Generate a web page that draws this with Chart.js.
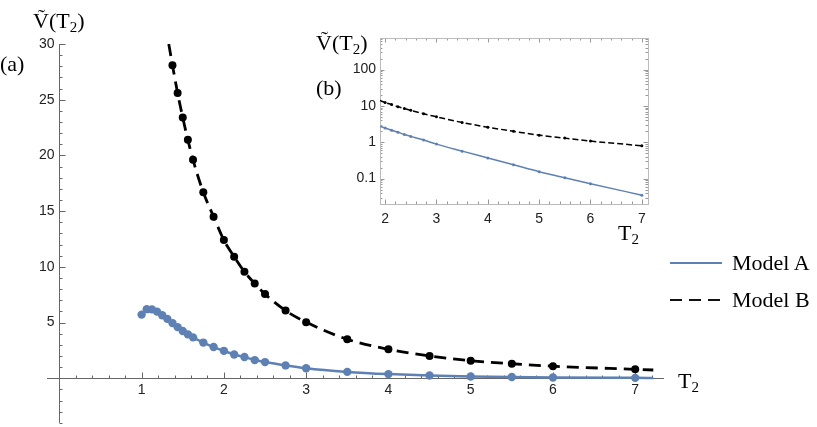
<!DOCTYPE html>
<html>
<head>
<meta charset="utf-8">
<script src="https://cdn.jsdelivr.net/npm/chart.js@4"></script>
<style>
  body { margin: 0; background: #fff; }
  #wrap { position: relative; width: 817px; height: 427px; overflow: hidden; }
  #main { position: absolute; left: 0; top: 0; }
  #inset { position: absolute; left: 300px; top: 0; }
  .lbl { position: absolute; font-family: "Liberation Serif", "Times New Roman", serif; font-size: 22px; line-height: 22px; color: #000; white-space: nowrap; }
  .lbl sub { font-size: 15px; vertical-align: baseline; position: relative; top: 4px; }
  .key { position: absolute; }
</style>
</head>
<body>
<div id="wrap">
  <canvas id="main" width="817" height="427"></canvas>
  <canvas id="inset" width="360" height="260"></canvas>

  <div class="lbl" style="left:33px; top:10px;">Ṽ(T<sub>2</sub>)</div>
  <div class="lbl" style="left:0px; top:53px;">(a)</div>
  <div class="lbl" style="left:678px; top:370px;">T<sub>2</sub></div>

  <div class="lbl" style="left:316px; top:32px;">Ṽ(T<sub>2</sub>)</div>
  <div class="lbl" style="left:316px; top:77px;">(b)</div>
  <div class="lbl" style="left:618px; top:222px;">T<sub>2</sub></div>

  <div class="key" style="left:670px; top:262px; width:52px; height:2px; background:#5E81B5;"></div>
  <div class="lbl" style="left:732px; top:252px;">Model A</div>
  <div class="key" style="left:670px; top:299px; width:52px; height:1.5px; background:repeating-linear-gradient(90deg,#111 0 12px,transparent 12px 19px);"></div>
  <div class="lbl" style="left:732px; top:289px;">Model B</div>
</div>

<script>
// Model A
const tA = [1, 1.0625, 1.125, 1.1875, 1.25, 1.3125, 1.375, 1.4375, 1.5, 1.5625, 1.625, 1.75, 1.875,
            2, 2.125, 2.25, 2.375, 2.5, 2.75, 3, 3.5, 4, 4.5, 5, 5.5, 6, 7];
const vA = [5.71, 6.2, 6.18, 5.98, 5.65, 5.33, 4.95, 4.59, 4.24, 3.94, 3.67, 3.2, 2.8,
            2.46, 2.13, 1.9, 1.63, 1.45, 1.15, 0.89, 0.57, 0.37, 0.24, 0.155, 0.105, 0.072, 0.035];
// Model B
const tB = [1.375, 1.4375, 1.5, 1.5625, 1.625, 1.75, 1.875, 2, 2.125, 2.25, 2.375, 2.5, 2.75,
            3, 3.5, 4, 4.5, 5, 5.5, 6, 7];
const vB = [28.1, 25.6, 23.4, 21.4, 19.6, 16.7, 14.5, 12.4, 10.9, 9.55, 8.5, 7.55, 6.07,
            5.03, 3.5, 2.6, 2.0, 1.57, 1.3, 1.08, 0.8];
// where the fitted curves run past the points
const curveAEnd = [7.22, 0.03];
const curveBStart = [1.33, 30];
const curveBEnd = [7.22, 0.74];

const mainXTicks = [1, 2, 3, 4, 5, 6, 7];
const mainYTicks = [5, 10, 15, 20, 25, 30];
const insetXTicks = [2, 3, 4, 5, 6, 7];
const insetYTicks = [0.1, 1, 10, 100];

const blue = '#5E81B5';
const pts = (t, v) => t.map((x, i) => ({x: x, y: v[i]}));

const ptsA = pts(tA, vA);
const ptsB = pts(tB, vB);
const lineA = ptsA.concat([{x: curveAEnd[0], y: curveAEnd[1]}]);
const lineB = [{x: curveBStart[0], y: curveBStart[1]}].concat(ptsB, [{x: curveBEnd[0], y: curveBEnd[1]}]);

// Mathematica style axes crossing at the origin
const mainAxes = {
  id: 'mainAxes',
  beforeDatasetsDraw(chart) {
    const {ctx, chartArea: a, scales: {x, y}} = chart;
    const x0 = Math.round(x.getPixelForValue(0)) + 0.5;
    const y0 = Math.round(y.getPixelForValue(0)) + 0.5;
    ctx.save();
    ctx.strokeStyle = '#666';
    ctx.lineWidth = 1;
    ctx.beginPath();
    ctx.moveTo(a.left, y0); ctx.lineTo(a.right, y0);
    ctx.moveTo(x0, a.top); ctx.lineTo(x0, a.bottom);
    for (let i = 1; i / 5 <= x.max; i++) {
      const px = Math.round(x.getPixelForValue(i / 5)) + 0.5;
      const len = i % 5 === 0 ? 6 : 3;
      ctx.moveTo(px, y0); ctx.lineTo(px, y0 - len);
    }
    for (let v = Math.ceil(y.min); v <= y.max; v++) {
      if (v === 0) continue;
      const py = Math.round(y.getPixelForValue(v)) + 0.5;
      const len = v % 5 === 0 ? 6 : 3;
      ctx.moveTo(x0, py); ctx.lineTo(x0 + len, py);
    }
    ctx.stroke();
    ctx.fillStyle = '#222';
    ctx.font = '14px "Liberation Sans", Arial, sans-serif';
    ctx.textAlign = 'center';
    ctx.textBaseline = 'middle';
    mainXTicks.forEach(v => ctx.fillText(String(v), x.getPixelForValue(v), y0 + 11.5));
    ctx.textAlign = 'right';
    mainYTicks.forEach(v => ctx.fillText(String(v), x0 - 5, y.getPixelForValue(v)));
    ctx.restore();
  }
};

// framed inset, ticks pointing inwards
const insetFrame = {
  id: 'insetFrame',
  beforeDatasetsDraw(chart) {
    const {ctx, chartArea: a, scales: {x, y}} = chart;
    ctx.save();
    ctx.strokeStyle = '#999';
    ctx.lineWidth = 1;
    ctx.beginPath();
    for (let i = Math.ceil(x.min * 5); i / 5 <= x.max; i++) {
      const px = Math.round(x.getPixelForValue(i / 5)) + 0.5;
      const len = i % 5 === 0 ? 4.5 : 2.5;
      ctx.moveTo(px, a.bottom); ctx.lineTo(px, a.bottom - len);
      ctx.moveTo(px, a.top); ctx.lineTo(px, a.top + len);
    }
    for (let e = -2; e <= 2; e++) {
      for (let k = 1; k <= 9; k++) {
        const v = k * Math.pow(10, e);
        if (v < y.min || v > y.max) continue;
        const py = Math.round(y.getPixelForValue(v)) + 0.5;
        const len = k === 1 ? 4.5 : 2.5;
        ctx.moveTo(a.left, py); ctx.lineTo(a.left + len, py);
        ctx.moveTo(a.right, py); ctx.lineTo(a.right - len, py);
      }
    }
    ctx.stroke();
    ctx.strokeStyle = '#bbb';
    ctx.strokeRect(Math.round(a.left) + 0.5, Math.round(a.top) + 0.5,
                   Math.round(a.right - a.left), Math.round(a.bottom - a.top));
    ctx.fillStyle = '#222';
    ctx.font = '14px "Liberation Sans", Arial, sans-serif';
    ctx.textAlign = 'center';
    ctx.textBaseline = 'middle';
    insetXTicks.forEach(v => ctx.fillText(String(v), x.getPixelForValue(v), a.bottom + 15));
    ctx.textAlign = 'right';
    insetYTicks.forEach(v => ctx.fillText(String(v), a.left - 4, y.getPixelForValue(v)));
    ctx.restore();
  }
};

new Chart(document.getElementById('main'), {
  type: 'scatter',
  data: {
    datasets: [
      { data: lineA, showLine: true, borderColor: blue, borderWidth: 2.5, pointRadius: 0,
        cubicInterpolationMode: 'monotone' },
      { data: lineB, showLine: true, borderColor: '#000', borderWidth: 2.8, borderDash: [12, 7],
        pointRadius: 0, cubicInterpolationMode: 'monotone' },
      { data: ptsA, showLine: false, pointRadius: 4.2, backgroundColor: blue, borderWidth: 0 },
      { data: ptsB, showLine: false, pointRadius: 4, backgroundColor: '#000', borderWidth: 0 }
    ]
  },
  options: {
    responsive: false,
    animation: false,
    devicePixelRatio: 1,
    layout: { padding: { left: 47, right: 153, top: 44, bottom: 0 } },
    plugins: { legend: { display: false }, tooltip: { enabled: false } },
    scales: {
      x: { type: 'linear', display: false, min: -0.15, max: 7.35 },
      y: { type: 'linear', display: false, min: -4, max: 30 }
    }
  },
  plugins: [mainAxes]
});

new Chart(document.getElementById('inset'), {
  type: 'scatter',
  data: {
    datasets: [
      { data: ptsA, showLine: true, borderColor: blue, borderWidth: 1.5, pointRadius: 1.5,
        backgroundColor: blue, pointBorderWidth: 0, cubicInterpolationMode: 'monotone' },
      { data: ptsB, showLine: true, borderColor: '#000', borderWidth: 1.5, borderDash: [6, 3],
        pointRadius: 1.5, backgroundColor: '#000', pointBorderWidth: 0, cubicInterpolationMode: 'monotone' }
    ]
  },
  options: {
    responsive: false,
    animation: false,
    devicePixelRatio: 1,
    layout: { padding: { left: 80, right: 12, top: 38, bottom: 56 } },
    plugins: { legend: { display: false }, tooltip: { enabled: false } },
    scales: {
      x: { type: 'linear', display: false, min: 1.9, max: 7.12 },
      y: { type: 'logarithmic', display: false, min: 0.02, max: 740 }
    }
  },
  plugins: [insetFrame]
});
</script>
</body>
</html>
